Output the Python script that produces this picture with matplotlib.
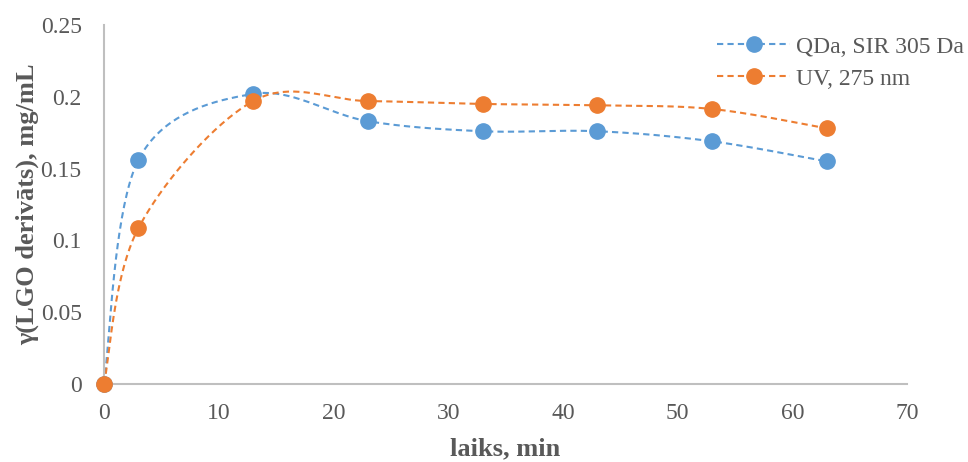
import numpy as np
import matplotlib.pyplot as plt
from matplotlib.ticker import FuncFormatter, MultipleLocator

# data
time_min = [0, 3, 13, 23, 33, 43, 53, 63]
qda_sir305 = [0.0, 0.156, 0.202, 0.183, 0.176, 0.176, 0.169, 0.155]
uv_275 = [0.0, 0.1085, 0.197, 0.197, 0.195, 0.194, 0.1915, 0.178]
labels = ["QDa, SIR 305 Da", "UV, 275 nm"]

BLUE = "#5B9BD5"
ORANGE = "#ED7D31"
GREY_TXT = "#595959"
GREY_AX = "#BFBFBF"


def smooth(xs, ys, n=40):
    # Catmull-Rom style bezier, like spreadsheet "smoothed line"
    p = np.column_stack([xs, ys]).astype(float)
    pts = [p[0]]
    for i in range(len(p) - 1):
        p0 = p[i - 1] if i > 0 else p[i]
        p1, p2 = p[i], p[i + 1]
        p3 = p[i + 2] if i + 2 < len(p) else p[i + 1]
        c1 = p1 + (p2 - p0) / 6
        c2 = p2 - (p3 - p1) / 6
        t = np.linspace(0, 1, n)[1:, None]
        seg = ((1 - t) ** 3) * p1 + 3 * ((1 - t) ** 2) * t * c1 \
            + 3 * (1 - t) * t ** 2 * c2 + t ** 3 * p2
        pts.extend(seg)
    pts = np.array(pts)
    return pts[:, 0], pts[:, 1]


plt.rcParams['font.family'] = ['Liberation Serif', 'DejaVu Serif']

fig = plt.figure(figsize=(9.68, 4.62), dpi=100)
ax = fig.add_axes([0.1074, 0.1688, 0.8296, 0.7772])

for ys, col, lab in [(qda_sir305, BLUE, labels[0]), (uv_275, ORANGE, labels[1])]:
    sx, sy = smooth(time_min, ys)
    ax.plot(sx, sy, color=col, lw=1.5, ls=(0, (3, 2)), zorder=2)
    ax.plot(time_min, ys, 'o', color=col, ms=11, zorder=3)
    ax.plot([], [], color=col, lw=1.5, ls=(0, (3, 2)), marker='o', ms=11, label=lab)

ax.set_xlim(0, 70)
ax.set_ylim(0, 0.25)
ax.xaxis.set_major_locator(MultipleLocator(10))
ax.yaxis.set_major_locator(MultipleLocator(0.05))
ax.yaxis.set_major_formatter(FuncFormatter(lambda v, pos: f"{v:g}"))
ax.tick_params(length=0, labelsize=17, labelcolor=GREY_TXT)
ax.tick_params(axis='x', pad=14)
ax.tick_params(axis='y', pad=16)

for s in ['top', 'right']:
    ax.spines[s].set_visible(False)
for s in ['left', 'bottom']:
    ax.spines[s].set_color(GREY_AX)
    ax.spines[s].set_linewidth(1.5)
for ln in ax.lines:
    ln.set_clip_on(False)

ax.set_xlabel("laiks, min", fontsize=19, fontweight='bold', color=GREY_TXT, labelpad=9)
ax.set_ylabel("γ(LGO derivāts), mg/mL", fontsize=19, fontweight='bold', color=GREY_TXT, labelpad=1)

leg = fig.legend(loc='upper left', bbox_to_anchor=(717 / 968, 1 - 36 / 462), frameon=False,
                 fontsize=17, handlelength=3.1, handletextpad=0.25, labelspacing=0.45,
                 borderpad=0, borderaxespad=0)
for t in leg.get_texts():
    t.set_color(GREY_TXT)

fig.savefig("out.png", dpi=100)
